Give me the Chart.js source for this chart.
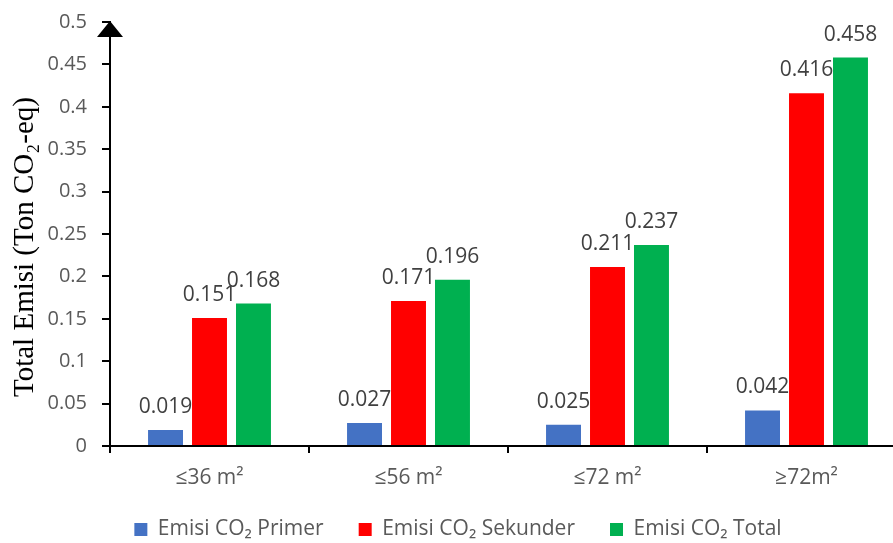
<!DOCTYPE html>
<html>
<head>
<meta charset="utf-8">
<script src="https://cdn.jsdelivr.net/npm/chart.js@4/dist/chart.umd.min.js"></script>
<style>
  html, body { margin: 0; padding: 0; background: #fff; overflow: hidden; width: 893px; height: 543px; }
  #wrap { width: 912px; height: 543px; }
</style>
</head>
<body>
<div id="wrap"><canvas id="chart" width="912" height="543"></canvas></div>
<script>
// Luas bangunan (kategori) dan emisi per kategori, dalam ton CO2-eq
const categories = ['≤36 m²', '≤56 m²', '≤72 m²', '≥72m²'];
const emisiPrimer = [0.019, 0.027, 0.025, 0.042];
const emisiSekunder = [0.151, 0.171, 0.211, 0.416];
const emisiTotal = [0.168, 0.196, 0.237, 0.458];
const seriesNames = ['Emisi CO₂ Primer', 'Emisi CO₂ Sekunder', 'Emisi CO₂ Total'];
const yTitle = 'Total Emisi (Ton CO₂-eq)';

const SANS = "'Open Sans', 'DejaVu Sans', sans-serif";
const SERIF = "'Liberation Serif', 'DejaVu Serif', serif";

// Value printed above each bar
const valueLabels = {
  id: 'valueLabels',
  afterDatasetsDraw(chart) {
    const ctx = chart.ctx;
    ctx.save();
    ctx.font = '21px ' + SANS;
    ctx.fillStyle = '#404040';
    ctx.textAlign = 'center';
    ctx.textBaseline = 'alphabetic';
    chart.data.datasets.forEach((ds, i) => {
      chart.getDatasetMeta(i).data.forEach((bar, j) => {
        ctx.fillText(String(ds.data[j]), bar.x, bar.y - 17);
      });
    });
    ctx.restore();
  }
};

// Arrow head on top of the value axis, plus the rotated axis title
const axisDecor = {
  id: 'axisDecor',
  afterDraw(chart) {
    const ctx = chart.ctx;
    const a = chart.chartArea;
    ctx.save();
    ctx.fillStyle = '#000';
    ctx.beginPath();
    ctx.moveTo(a.left, a.top - 1);
    ctx.lineTo(a.left - 13, a.top + 15);
    ctx.lineTo(a.left + 13, a.top + 15);
    ctx.closePath();
    ctx.fill();

    ctx.translate(25, (a.top + a.bottom) / 2 + 13);
    ctx.rotate(-Math.PI / 2);
    ctx.font = '29px ' + SERIF;
    ctx.fillStyle = '#000';
    ctx.textAlign = 'center';
    ctx.textBaseline = 'middle';
    ctx.fillText(yTitle, 0, 0);
    ctx.restore();
  }
};

Chart.defaults.font.family = SANS;

new Chart(document.getElementById('chart'), {
  type: 'bar',
  data: {
    labels: categories,
    datasets: [
      { label: seriesNames[0], data: emisiPrimer, backgroundColor: '#4472C4' },
      { label: seriesNames[1], data: emisiSekunder, backgroundColor: '#FF0000' },
      { label: seriesNames[2], data: emisiTotal, backgroundColor: '#00B050' }
    ]
  },
  options: {
    responsive: false,
    animation: false,
    layout: { padding: { top: 22, left: 10, right: 6, bottom: 0 } },
    datasets: {
      bar: { categoryPercentage: 0.663, barPercentage: 0.795 }
    },
    scales: {
      x: {
        grid: { drawOnChartArea: false, drawTicks: true, tickLength: 7, color: '#000', lineWidth: 2, offset: true },
        border: { display: true, color: '#000', width: 2 },
        ticks: { color: '#595959', font: { size: 21 }, padding: 12, maxRotation: 0, autoSkip: false },
        afterFit(scale) { scale.height = 38; }
      },
      y: {
        min: 0,
        max: 0.5,
        grid: { drawOnChartArea: false, drawTicks: true, tickLength: 8, color: '#000', lineWidth: 2 },
        border: { display: true, color: '#000', width: 2 },
        ticks: {
          stepSize: 0.05,
          color: '#595959',
          font: { size: 20, lineHeight: 0.6 },
          padding: 15,
          callback: v => String(+Number(v).toFixed(2))
        },
        afterFit(scale) { scale.width = 100; }
      }
    },
    plugins: {
      legend: {
        position: 'bottom',
        maxHeight: 59,
        labels: {
          boxWidth: 13,
          boxHeight: 13,
          padding: 35,
          color: '#595959',
          font: { size: 21 }
        }
      },
      tooltip: { enabled: false }
    }
  },
  plugins: [valueLabels, axisDecor]
});
</script>
</body>
</html>
